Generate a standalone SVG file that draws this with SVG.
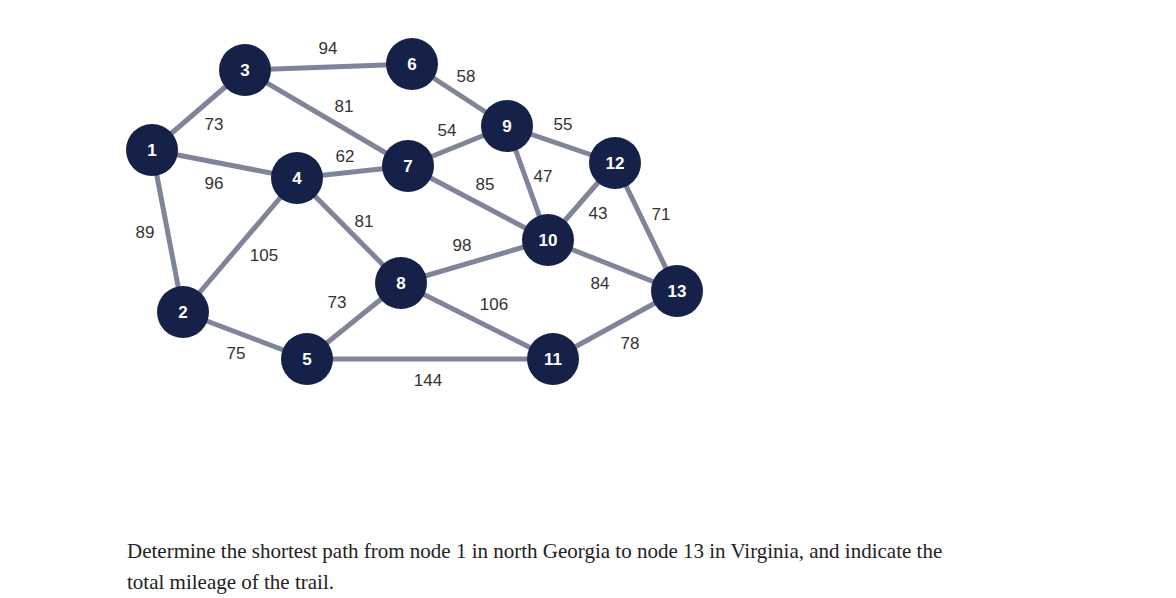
<svg xmlns="http://www.w3.org/2000/svg" width="1176" height="598" viewBox="0 0 1176 598">
<style>
.e{stroke:#7f8499;stroke-width:5;fill:none}
.n{fill:#16214a}
.nt{font-family:"Liberation Sans",Arial,sans-serif;font-weight:bold;font-size:17px;fill:#fff;text-anchor:middle;dominant-baseline:central}
.l{font-family:"Liberation Sans",Arial,sans-serif;font-size:17px;fill:#333;text-anchor:middle;dominant-baseline:central}
.q{font-family:"Liberation Serif","Times New Roman",serif;font-size:21px;fill:#222}
</style>
<rect width="1176" height="598" fill="#fff"/>
<g id="connectors">
<line class="e" x1="152" y1="150" x2="245" y2="70"/>
<line class="e" x1="152" y1="150" x2="297" y2="178"/>
<line class="e" x1="152" y1="150" x2="183" y2="312"/>
<line class="e" x1="245" y1="70" x2="412" y2="64"/>
<line class="e" x1="245" y1="70" x2="408" y2="166"/>
<line class="e" x1="297" y1="178" x2="408" y2="166"/>
<line class="e" x1="297" y1="178" x2="183" y2="312"/>
<line class="e" x1="297" y1="178" x2="401" y2="283"/>
<line class="e" x1="183" y1="312" x2="307" y2="359"/>
<line class="e" x1="307" y1="359" x2="401" y2="283"/>
<line class="e" x1="307" y1="359" x2="553" y2="359"/>
<line class="e" x1="412" y1="64" x2="507" y2="126"/>
<line class="e" x1="408" y1="166" x2="507" y2="126"/>
<line class="e" x1="408" y1="166" x2="548" y2="240"/>
<line class="e" x1="401" y1="283" x2="548" y2="240"/>
<line class="e" x1="401" y1="283" x2="553" y2="359"/>
<line class="e" x1="507" y1="126" x2="615" y2="163"/>
<line class="e" x1="507" y1="126" x2="548" y2="240"/>
<line class="e" x1="615" y1="163" x2="548" y2="240"/>
<line class="e" x1="615" y1="163" x2="677" y2="291"/>
<line class="e" x1="548" y1="240" x2="677" y2="291"/>
<line class="e" x1="553" y1="359" x2="677" y2="291"/>
</g>
<g id="edge-labels">
<text class="l" x="328" y="48">94</text>
<text class="l" x="466" y="76">58</text>
<text class="l" x="214" y="124">73</text>
<text class="l" x="344" y="106">81</text>
<text class="l" x="447" y="130">54</text>
<text class="l" x="563" y="124">55</text>
<text class="l" x="345" y="156">62</text>
<text class="l" x="543" y="176">47</text>
<text class="l" x="214" y="183">96</text>
<text class="l" x="485" y="184">85</text>
<text class="l" x="598" y="213">43</text>
<text class="l" x="661" y="214">71</text>
<text class="l" x="145" y="232">89</text>
<text class="l" x="364" y="221">81</text>
<text class="l" x="462" y="245">98</text>
<text class="l" x="264" y="255">105</text>
<text class="l" x="600" y="283">84</text>
<text class="l" x="337" y="302">73</text>
<text class="l" x="494" y="304">106</text>
<text class="l" x="236" y="353">75</text>
<text class="l" x="630" y="343">78</text>
<text class="l" x="428" y="380">144</text>
</g>
<g id="node1"><circle class="n" cx="152" cy="150" r="26"/><text class="nt" x="152" y="150">1</text></g>
<g id="node2"><circle class="n" cx="183" cy="312" r="26"/><text class="nt" x="183" y="312">2</text></g>
<g id="node3"><circle class="n" cx="245" cy="70" r="26"/><text class="nt" x="245" y="70">3</text></g>
<g id="node4"><circle class="n" cx="297" cy="178" r="26"/><text class="nt" x="297" y="178">4</text></g>
<g id="node5"><circle class="n" cx="307" cy="359" r="26"/><text class="nt" x="307" y="359">5</text></g>
<g id="node6"><circle class="n" cx="412" cy="64" r="26"/><text class="nt" x="412" y="64">6</text></g>
<g id="node7"><circle class="n" cx="408" cy="166" r="26"/><text class="nt" x="408" y="166">7</text></g>
<g id="node8"><circle class="n" cx="401" cy="283" r="26"/><text class="nt" x="401" y="283">8</text></g>
<g id="node9"><circle class="n" cx="507" cy="126" r="26"/><text class="nt" x="507" y="126">9</text></g>
<g id="node10"><circle class="n" cx="548" cy="240" r="26"/><text class="nt" x="548" y="240">10</text></g>
<g id="node11"><circle class="n" cx="553" cy="359" r="26"/><text class="nt" x="553" y="359">11</text></g>
<g id="node12"><circle class="n" cx="615" cy="163" r="26"/><text class="nt" x="615" y="163">12</text></g>
<g id="node13"><circle class="n" cx="677" cy="291" r="26"/><text class="nt" x="677" y="291">13</text></g>
<text class="q" x="127" y="558">Determine the shortest path from node 1 in north Georgia to node 13 in Virginia, and indicate the</text>
<text class="q" x="127" y="589">total mileage of the trail.</text>
</svg>
